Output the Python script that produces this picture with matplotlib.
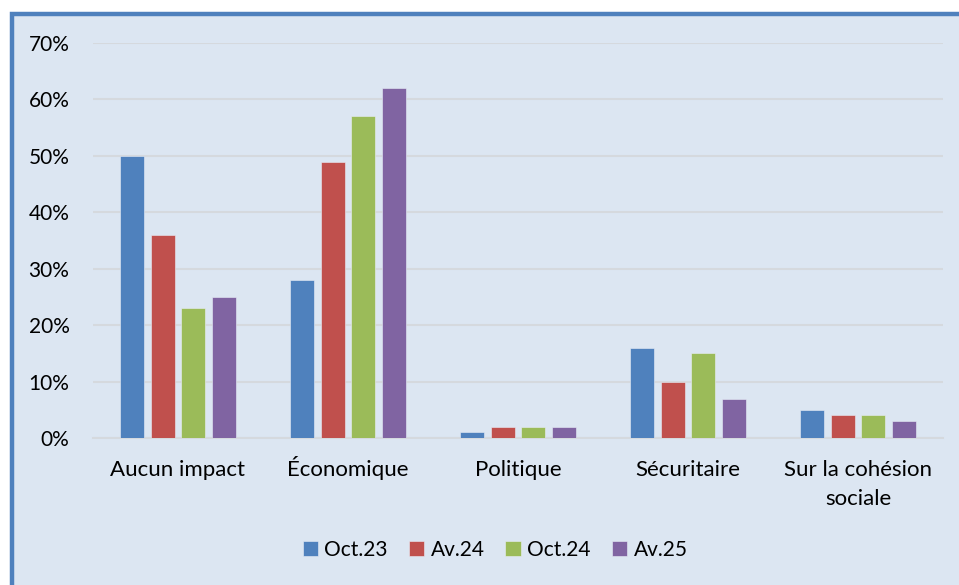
import numpy as np
from matplotlib import pyplot as plt
from matplotlib.patches import Rectangle
from matplotlib.ticker import FuncFormatter

# Data (share of answers, %)
categories = ["Aucun impact", "Économique", "Politique", "Sécuritaire", "Sur la cohésion\nsociale"]
series_names = ["Oct.23", "Av.24", "Oct.24", "Av.25"]
oct23 = [50, 28, 1, 16, 5]
av24 = [36, 49, 2, 10, 4]
oct24 = [23, 57, 2, 15, 4]
av25 = [25, 62, 2, 7, 3]
colors = ["#4f81bd", "#c0504d", "#9bbb59", "#8064a2"]

plt.rcParams['font.family'] = ['Lato', 'DejaVu Sans']

fig = plt.figure(figsize=(9.59, 5.85), dpi=100)
fig.patch.set_facecolor("white")

# light blue chart area with the blue frame (cut off at right/bottom)
frame = Rectangle((12/959, -0.05), 1.05, 1 - 14/585 + 0.05, transform=fig.transFigure,
                  facecolor="#dce6f2", edgecolor="#4f81bd", linewidth=3.2, zorder=-5)
fig.patches.append(frame)

ax = fig.add_axes([93/959, 1 - 438/585, 850/959, 395/585])
ax.set_facecolor("none")

x = np.arange(len(categories))
width = 0.141
step = 0.181
allseries = [oct23, av24, oct24, av25]
for i in range(len(allseries)):
    vals = [v / 100 for v in allseries[i]]
    ax.bar(x + (i - 1.5) * step, vals, width, color=colors[i], label=series_names[i],
           edgecolor="#e8eef7", linewidth=0.4, zorder=3)

ax.set_xlim(-0.5, len(categories) - 0.5)
ax.set_ylim(0, 0.7)
ax.set_yticks(np.arange(0, 0.71, 0.1))
ax.yaxis.set_major_formatter(FuncFormatter(lambda v, p: "%d%%" % round(v * 100)))
ax.grid(axis="y", color="#d5d9de", linewidth=1.5, zorder=0)
ax.set_axisbelow(True)
for s in ["top", "right", "left"]:
    ax.spines[s].set_visible(False)
ax.spines["bottom"].set_color("#d5d9de")
ax.spines["bottom"].set_linewidth(1.5)

# category labels drawn line by line so baselines line up (accent on É)
ax.set_xticks(x)
ax.set_xticklabels([])
ax.tick_params(axis="x", length=0)
for i in range(len(categories)):
    lines = categories[i].split("\n")
    for k in range(len(lines)):
        ax.annotate(lines[k], xy=(x[i], 0), xycoords=("data", "axes fraction"),
                    xytext=(0, -38 - 29 * k), textcoords="offset pixels",
                    ha="center", va="baseline", fontsize=16)

ax.tick_params(axis="y", length=0, pad=17, labelsize=15)

leg = fig.legend(loc="center", bbox_to_anchor=(495/959, 1 - 550/585), ncol=4, frameon=False,
                 fontsize=15, handlelength=0.75, handleheight=0.75, handletextpad=0.3,
                 columnspacing=1.0)

fig.savefig("out.png", dpi=100, facecolor=fig.get_facecolor())
